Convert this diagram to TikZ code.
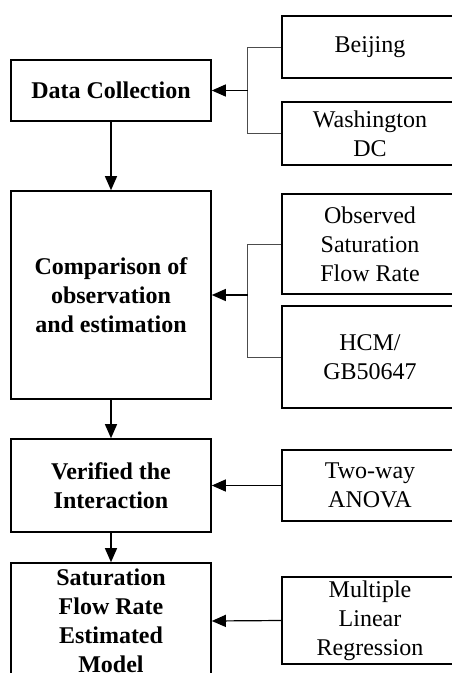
\documentclass[tikz,border=0pt]{standalone}
\usepackage{fontspec}
\setmainfont{Liberation Serif}
\usepackage{tikz}
\usetikzlibrary{positioning, arrows.meta, calc}

\begin{document}
\begin{tikzpicture}[
        leftbox/.style={draw=black, line width=1.6pt, inner sep=0pt, minimum width=200pt,
            align=center, font=\fontsize{24}{29}\selectfont\bfseries},
        rightbox/.style={draw=black, line width=1.6pt, inner sep=0pt, minimum width=176pt,
            align=center, font=\fontsize{24}{29}\selectfont},
        arr/.style={line width=1.2pt, -{Triangle[length=14pt, width=12pt]}},
        bracket/.style={draw=black!70, line width=0.9pt}
    ]
        \def\lx{111pt}
        \def\rx{370pt}
        \def\jx{36pt}

        % frame of the picture
        \useasboundingbox (0pt, 0pt) rectangle (452pt, -673pt);
        \clip (0pt, 0pt) rectangle (452pt, -673pt);

        % main steps
        \node[leftbox, minimum height=61pt]  (collect) at (\lx, -90.5pt) {Data Collection};
        \node[leftbox, minimum height=208pt] (compare) at (\lx, -295pt) {Comparison of\\observation\\and estimation};
        \node[leftbox, minimum height=93pt]  (verify)  at (\lx, -485.5pt) {Verified the\\Interaction};
        \node[leftbox, minimum height=116pt] (model)   at (\lx, -621pt) {Saturation\\Flow Rate\\Estimated\\Model};

        % inputs
        \node[rightbox, minimum height=62pt]  (beijing)    at (\rx, -47pt) {Beijing};
        \node[rightbox, minimum height=63pt]  (washington) at (\rx, -133.5pt) {Washington\\DC};
        \node[rightbox, minimum height=100pt] (observed)   at (\rx, -244pt) {Observed\\Saturation\\Flow Rate};
        \node[rightbox, minimum height=102pt] (hcm)        at (\rx, -357pt) {HCM/\\GB50647};
        \node[rightbox, minimum height=71pt]  (anova)      at (\rx, -485.5pt) {Two-way\\ANOVA};
        \node[rightbox, minimum height=87pt]  (mlr)        at (\rx, -620.5pt) {Multiple\\Linear\\Regression};

        % flow down the steps
        \foreach \a/\b in {collect/compare, compare/verify, verify/model}
        {
            \draw[arr] (\a.south) -- (\b.north);
        }

        % brackets joining two inputs
        \foreach \step/\up/\down in {collect/beijing/washington, compare/observed/hcm}
        {
            \coordinate (j-\step) at ($(\step.east) + (\jx, 0)$);
            \draw[bracket] (\up.west) -| (j-\step) |- (\down.west);
            \draw[arr] (j-\step) -- (\step.east);
        }

        % single inputs
        \draw[arr] (anova.west) -- (verify.east);
        \draw[arr] (mlr.west) -- (model.east);
    \end{tikzpicture}
\end{document}
